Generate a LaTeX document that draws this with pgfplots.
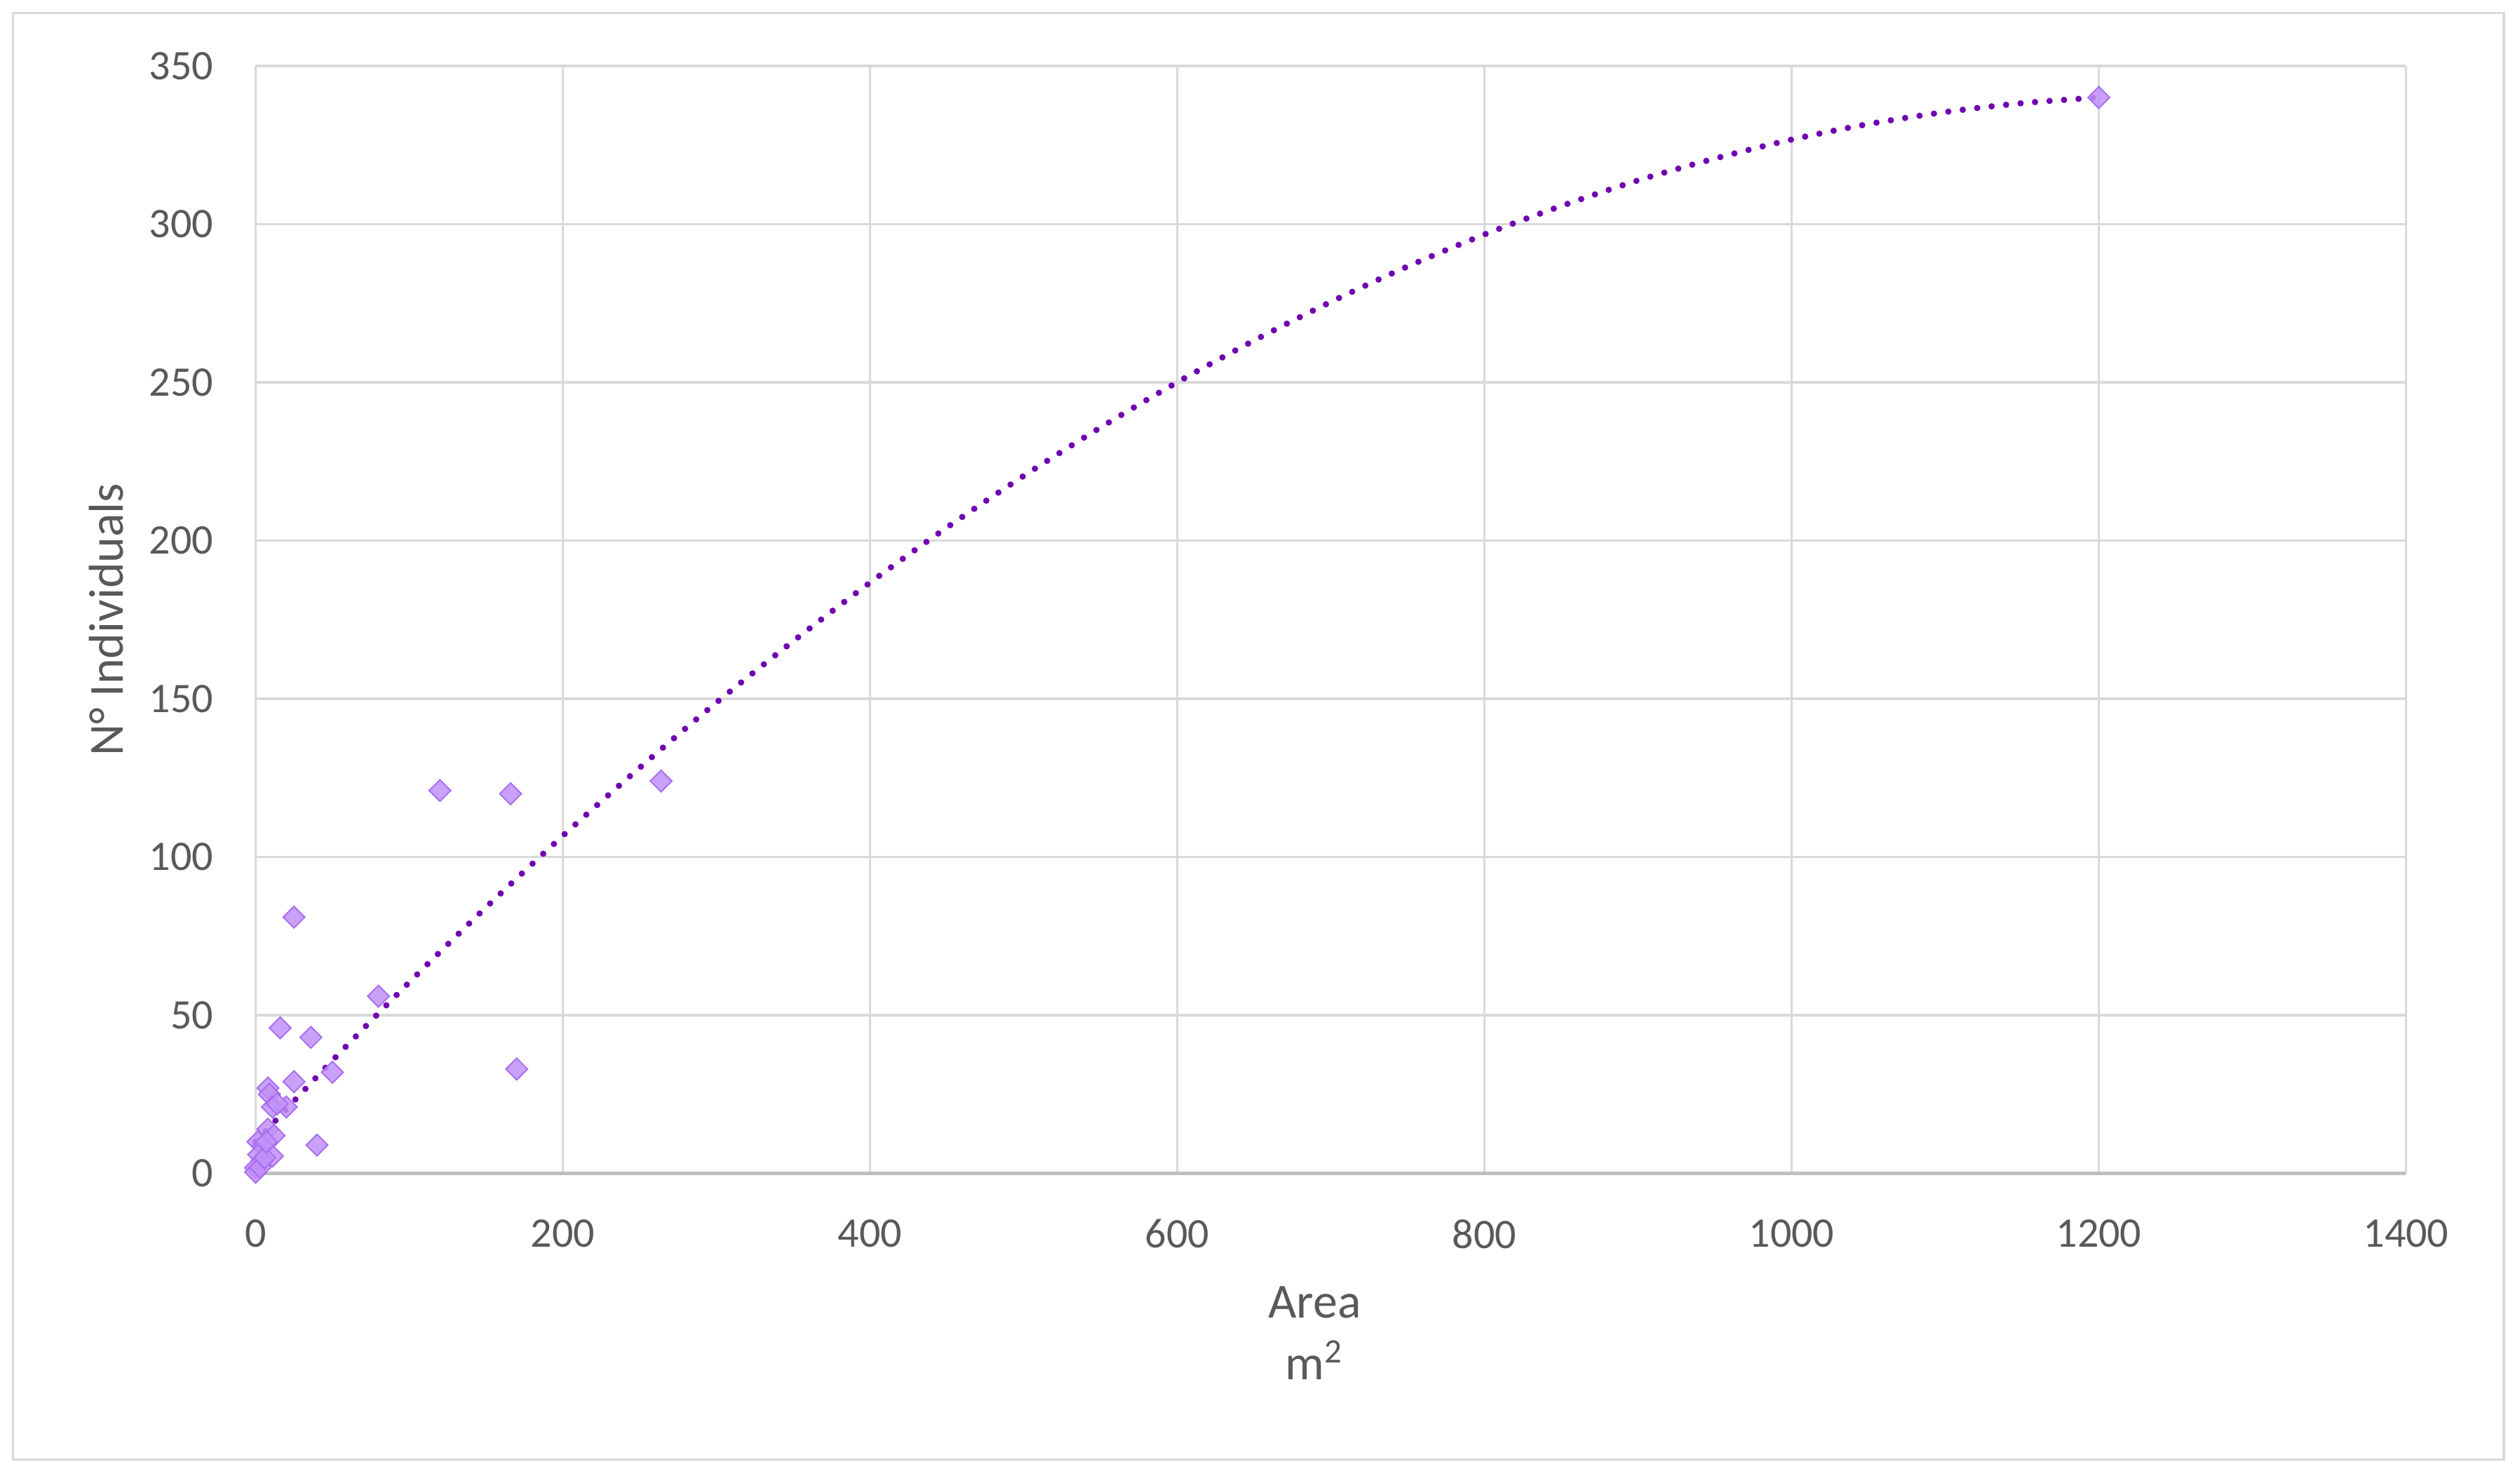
\documentclass[border=0pt]{standalone}
\usepackage{fontspec}
\setmainfont{Carlito}
\usepackage{pgfplots}
\pgfplotsset{compat=1.18}

\definecolor{gridgray}{RGB}{217,217,217}
\definecolor{axisgray}{RGB}{191,191,191}
\definecolor{textgray}{RGB}{89,89,89}
\definecolor{markfill}{RGB}{192,145,248}
\definecolor{markedge}{RGB}{168,108,240}
\definecolor{trend}{RGB}{112,0,176}

\begin{document}
\begin{tikzpicture}
% chart area and its frame
\path[use as bounding box] (-66.8pt,-78.5pt) rectangle (591.8pt,306.6pt);
\draw[gridgray, line width=0.6pt] (-63.4pt,-74.8pt) rectangle (587.6pt,303.2pt);

\begin{axis}[
    at={(0pt,0pt)}, anchor=south west,
    scale only axis, width=562pt, height=289.4pt,
    xmin=0, xmax=1400, ymin=0, ymax=350,
    xtick={0,200,...,1400}, ytick={0,50,...,350},
    scaled ticks=false,
    /pgf/number format/1000 sep={},
    /pgf/number format/assume math mode=true,
    grid=major, grid style={gridgray, line width=0.65pt},
    axis line style={draw=none},
    major tick length=0pt,
    extra y ticks={0}, extra y tick labels={},
    extra y tick style={grid style={axisgray, line width=0.8pt}},
    tick label style={font=\fontsize{11}{13}\selectfont, text=textgray, inner sep=0pt},
    xticklabel style={anchor=north, yshift=-11.8pt},
    yticklabel style={anchor=east, xshift=-10.9pt},
    xlabel={Area\\m\textsuperscript{2}},
    xlabel style={at={(axis description cs:0.4925,0)}, anchor=north, yshift=-29.4pt,
        align=center, font=\fontsize{12.8}{16}\selectfont, text=textgray, inner sep=0pt},
    ylabel={N° Individuals},
    ylabel style={at={(axis description cs:-0.0694,0.5)}, anchor=center,
        font=\fontsize{12.8}{15}\selectfont, text=textgray, inner sep=0pt},
    clip=false,
]
% observations
\addplot[only marks, mark=square*, mark size=2.0pt,
    mark options={rotate=45, fill=markfill, draw=markedge, line width=0.35pt, fill opacity=0.85}]
    coordinates {
    (1200,340) (264,124) (120,121) (166,120) (25,81) (80,56) (16,46) (36,43)
    (50,32) (170,33) (25,29) (8,27) (9,25) (11,21) (20,21) (14,22) (40,9)
    (8,14) (12,12) (1.5,10) (5,8.5) (11,5.5) (2,6) (4,4) (0,1.8) (0,0.4)
    (3,2) (6,5) (7,10)
};
% polynomial trend line
\addplot[trend, line width=1.65pt, dash pattern=on 0pt off 3.8pt, line cap=round, smooth, no markers]
    coordinates {
    (0,10) (50,35.7) (100,60.4) (150,84.1) (200,106.7) (250,128.2) (300,148.8)
    (350,168.2) (400,186.7) (450,204.1) (500,220.4) (550,235.7) (600,250)
    (650,263.2) (700,275.4) (750,286.6) (800,296.7) (850,305.7) (900,313.8)
    (950,320.7) (1000,326.7) (1050,331.6) (1100,335.4) (1150,338.2) (1200,340)
};
\end{axis}
\end{tikzpicture}
\end{document}
